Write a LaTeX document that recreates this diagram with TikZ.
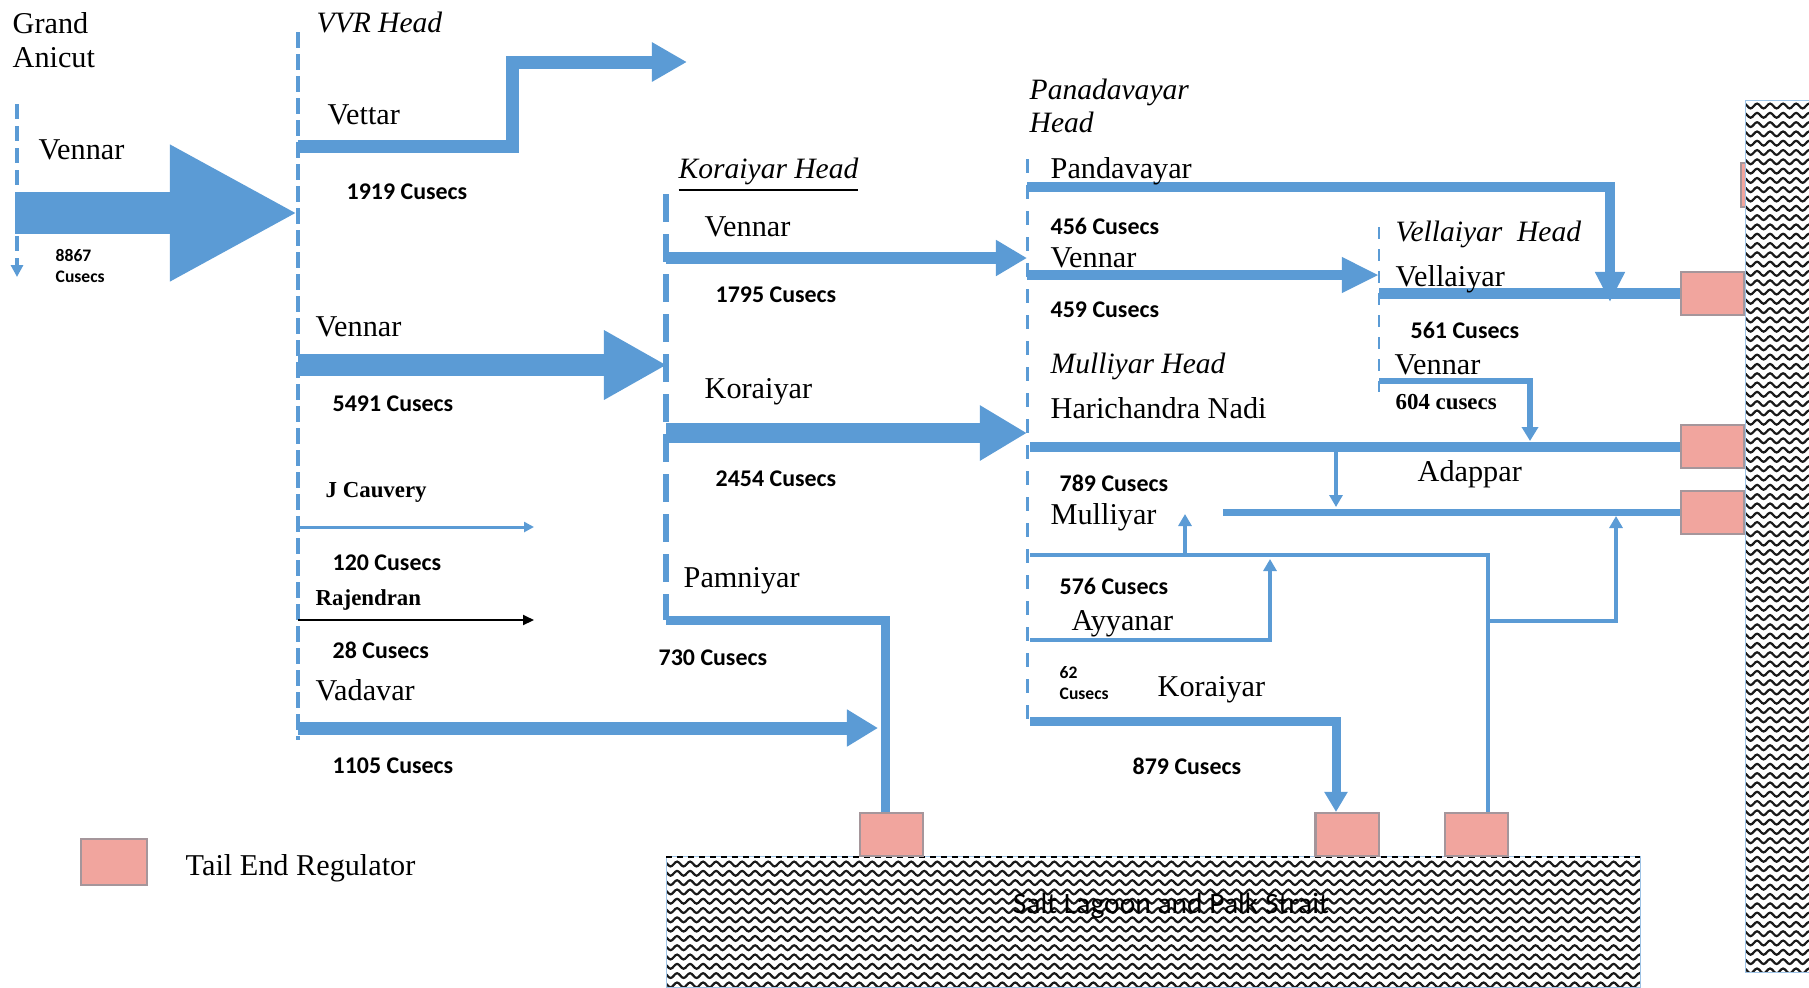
\documentclass[tikz,border=0pt]{standalone}
\usepackage{fontspec}
\setmainfont{Liberation Serif}
\newfontfamily\calib{Carlito}
\usetikzlibrary{arrows.meta,decorations.pathmorphing}
\definecolor{canal}{RGB}{91,155,213}
\definecolor{regpink}{RGB}{241,165,158}
\definecolor{reggray}{RGB}{165,150,155}
\tikzstyle{nm}=[anchor=west,inner sep=0pt,font=\fontsize{8.6}{9.8}\selectfont]
\tikzstyle{hd}=[anchor=west,inner sep=0pt,font=\fontsize{8.4}{9.6}\selectfont\itshape]
\tikzstyle{sm}=[anchor=west,inner sep=0pt,font=\fontsize{6.5}{8}\selectfont\bfseries]
\tikzstyle{cu}=[anchor=west,fill=white,rounded corners=0.08cm,inner xsep=0.2cm,inner ysep=0.1cm,font=\fontsize{6.8}{8}\selectfont\calib\bfseries]
\tikzstyle{cusm}=[cu,align=left,font=\fontsize{5}{6}\selectfont\calib\bfseries]
\tikzstyle{reg}=[draw=reggray,fill=regpink,line width=0.02cm,minimum width=0.63cm,minimum height=0.43cm,inner sep=0pt]
\tikzstyle{hline}=[canal,dash pattern=on 0.15cm off 0.07cm]
\tikzstyle{wave}=[black!90,line width=0.022cm,decorate,decoration={snake,segment length=0.13cm,amplitude=0.024cm}]

\begin{document}
\begin{tikzpicture}[x=0.01cm,y=-0.01cm]
\useasboundingbox (0,0) rectangle (1809,987);

\fill[white] (666,856) rectangle (1640,987);
\begin{scope}
\clip (666,856) rectangle (1640,987);
\foreach \y in {864,873.3,...,990} \draw[wave] (660,\y) -- (1650,\y);
\end{scope}
\draw[canal!60,line width=0.01cm] (666,856) rectangle (1640,987);
\draw[black,line width=0.025cm,dash pattern=on 0.06cm off 0.05cm] (666,857) -- (1640,857);
\node[font=\fontsize{8.4}{10}\selectfont\calib] (salt) at (1171,906) {Salt Lagoon and Palk Strait};

\node[reg] (r0) at (1772,185) {};
\fill[white] (1745,100) rectangle (1809,972);
\begin{scope}
\clip (1745,100) rectangle (1809,972);
\foreach \y in {106,115.3,...,975} \draw[wave] (1740,\y) -- (1815,\y);
\end{scope}
\draw[canal!60,line width=0.01cm] (1745,100) rectangle (1809,972);

\node[reg] (r1) at (891.5,834.5) {};
\node[reg] (r2) at (1347,834.5) {};
\node[reg] (r3) at (1476,834.5) {};
\node[reg] (r4) at (1712.5,293.5) {};
\node[reg] (r5) at (1712.5,446.5) {};
\node[reg] (r6) at (1712.5,512) {};

\coordinate (ga0) at (17,104);
\coordinate (ga1) at (17,277);
\coordinate (vvr0) at (298,32);
\coordinate (vvr1) at (298,740);
\coordinate (kh0) at (666,194);
\coordinate (kh1) at (666,620);
\coordinate (ph0) at (1027,159);
\coordinate (ph1) at (1027,721);
\coordinate (vh0) at (1379,227);
\coordinate (vh1) at (1379,392);

\draw[hline,line width=0.03cm,-{Triangle[length=0.12cm,width=0.12cm]}] (ga0) -- (ga1);
\draw[hline,line width=0.04cm,dash pattern=on 0.16cm off 0.06cm] (vvr0) -- (vvr1);
\draw[hline,line width=0.06cm,dash pattern=on 0.28cm off 0.12cm] (kh0) -- (kh1);
\draw[hline,line width=0.03cm,dash pattern=on 0.14cm off 0.12cm] (ph0) -- (ph1);
\draw[hline,line width=0.025cm,dash pattern=on 0.12cm off 0.1cm] (vh0) -- (vh1);

\coordinate (big0) at (15,213);
\coordinate (big1) at (298,213);
\draw[canal,line width=0.42cm,-{Triangle[length=1.28cm,width=1.27cm]}] (big0) -- (big1);

\coordinate (vet0) at (298,146);
\coordinate (vet1) at (687,62);
\draw[canal,line width=0.13cm,-{Triangle[length=0.35cm,width=0.37cm]}] (vet0) -| (512,62) -- (vet1);
\coordinate (vv0) at (298,365);
\coordinate (vv1) at (667,365);
\draw[canal,line width=0.22cm,-{Triangle[length=0.63cm,width=0.65cm]}] (vv0) -- (vv1);
\coordinate (jc0) at (298,527);
\coordinate (jc1) at (534,527);
\draw[canal,line width=0.03cm,-{Triangle[length=0.1cm,width=0.1cm]}] (jc0) -- (jc1);
\coordinate (rj0) at (298,620);
\coordinate (rj1) at (534,620);
\draw[black,line width=0.02cm,-{Triangle[length=0.11cm,width=0.1cm]}] (rj0) -- (rj1);
\coordinate (vd0) at (298,728);
\coordinate (vd1) at (878,728);
\draw[canal,line width=0.13cm,-{Triangle[length=0.31cm,width=0.35cm]}] (vd0) -- (vd1);

\draw[canal,line width=0.09cm] (kh1) -| ([xshift=-0.065cm]r1.north);
\coordinate (kv0) at (666,258);
\coordinate (kv1) at (1027,258);
\draw[canal,line width=0.12cm,-{Triangle[length=0.31cm,width=0.34cm]}] (kv0) -- (kv1);
\coordinate (kk0) at (666,433);
\coordinate (kk1) at (1027,433);
\draw[canal,line width=0.2cm,-{Triangle[length=0.47cm,width=0.52cm]}] (kk0) -- (kk1);

\coordinate (pd0) at (1027,187);
\coordinate (pd1) at (1610,302);
\draw[canal,line width=0.1cm,-{Triangle[length=0.3cm,width=0.28cm]}] (pd0) -| (pd1);
\coordinate (pv0) at (1027,275);
\coordinate (pv1) at (1379,275);
\draw[canal,line width=0.1cm,-{Triangle[length=0.37cm,width=0.33cm]}] (pv0) -- (pv1);
\coordinate (vl0) at (1379,293.5);
\draw[canal,line width=0.11cm] (vl0) -- (r4.west);
\coordinate (vn0) at (1379,381);
\coordinate (vn1) at (1530,441);
\draw[canal,line width=0.06cm,-{Triangle[length=0.14cm,width=0.16cm]}] (vn0) -| (vn1);
\coordinate (hn0) at (1030,446.5);
\draw[canal,line width=0.1cm] (hn0) -- (r5.west);
\coordinate (ad0) at (1336,451);
\coordinate (ad1) at (1336,507);
\draw[canal,line width=0.035cm,-{Triangle[length=0.12cm,width=0.13cm]}] (ad0) -- (ad1);
\coordinate (ap0) at (1223,512);
\draw[canal,line width=0.07cm] (ap0) -- (r6.west);
\coordinate (ml0) at (1030,555);
\draw[canal,line width=0.04cm] (ml0) -| ([xshift=0.12cm]r3.north);
\coordinate (br0) at (1488,621);
\coordinate (br1) at (1616,516);
\draw[canal,line width=0.04cm,-{Triangle[length=0.12cm,width=0.13cm]}] (br0) -| (br1);
\coordinate (mu0) at (1185,555);
\coordinate (mu1) at (1185,514);
\draw[canal,line width=0.04cm,-{Triangle[length=0.12cm,width=0.13cm]}] (mu0) -- (mu1);
\coordinate (ay0) at (1030,640);
\coordinate (ay1) at (1270,559);
\draw[canal,line width=0.04cm,-{Triangle[length=0.12cm,width=0.13cm]}] (ay0) -| (ay1);
\coordinate (kb0) at (1030,721);
\draw[canal,line width=0.09cm,-{Triangle[length=0.2cm,width=0.22cm]}] (kb0) -| ([xshift=-0.11cm]r2.north);

\node[nm,align=left] (ga) at (12,40) {Grand\\Anicut};
\node[nm] (gav) at (38,150) {Vennar};
\node[cusm,text width=0.81cm,inner ysep=0.12cm] (c8867) at (35,266) {8867\\Cusecs};

\node[hd] (vvrh) at (316,22) {VVR Head};
\node[nm] (vet) at (327,115) {Vettar};
\node[cu] (c1919) at (326,192) {1919 Cusecs};
\node[nm] (vvrv) at (315,327) {Vennar};
\node[cu] (c5491) at (312,404) {5491 Cusecs};
\node[sm] (jc) at (325,492) {J Cauvery};
\node[cu] (c120) at (312,563) {120 Cusecs};
\node[sm] (raj) at (315,600) {Rajendran};
\node[cu] (c28) at (312,650) {28 Cusecs};
\node[nm] (vad) at (315,690) {Vadavar};
\node[cu] (c1105) at (312,766) {1105 Cusecs};

\node[hd] (korh) at (678,175) {\underline{Koraiyar Head}};
\node[nm] (korv) at (704,227) {Vennar};
\node[cu] (c1795) at (695,295) {1795 Cusecs};
\node[nm] (kor) at (704,392) {Koraiyar};
\node[cu] (c2454) at (695,479) {2454 Cusecs};
\node[nm] (pam) at (683,581) {Pamniyar};
\node[cu] (c730) at (638,658) {730 Cusecs};

\node[hd,align=left] (panh) at (1029,106) {Panadavayar\\Head};
\node[nm] (pnd) at (1050,171) {Pandavayar};
\node[cu] (c456) at (1030,226) {456 Cusecs};
\node[nm] (pnv) at (1050,258) {Vennar};
\node[cu] (c459) at (1030,310) {459 Cusecs};
\node[hd] (mulh) at (1050,366) {Mulliyar Head};
\node[nm] (har) at (1050,408) {Harichandra Nadi};
\node[cu] (c789) at (1039,483) {789 Cusecs};
\node[nm] (mul) at (1050,517) {Mulliyar};
\node[nm] (adp) at (1417,474) {Adappar};
\node[cu] (c576) at (1039,586) {576 Cusecs};
\node[nm] (ayy) at (1071,624) {Ayyanar};
\node[cusm,text width=0.66cm,inner xsep=0.25cm] (c62) at (1034,683) {62\\Cusecs};
\node[nm] (kor2) at (1157,690) {Koraiyar};
\node[cu] (c879) at (1112,766) {879 Cusecs};

\node[hd] (velh) at (1395,234) {Vellaiyar\ \ Head};
\node[nm] (vel) at (1395,279) {Vellaiyar};
\node[cu] (c561) at (1390,330) {561 Cusecs};
\node[nm] (vlv) at (1394,365) {Vennar};
\node[sm] (c604) at (1395,402) {604 cusecs};

\node[reg,minimum width=0.66cm,minimum height=0.46cm] (leg) at (114,862) {};
\node[nm] (legt) at (185,868) {Tail End Regulator};
\end{tikzpicture}
\end{document}
